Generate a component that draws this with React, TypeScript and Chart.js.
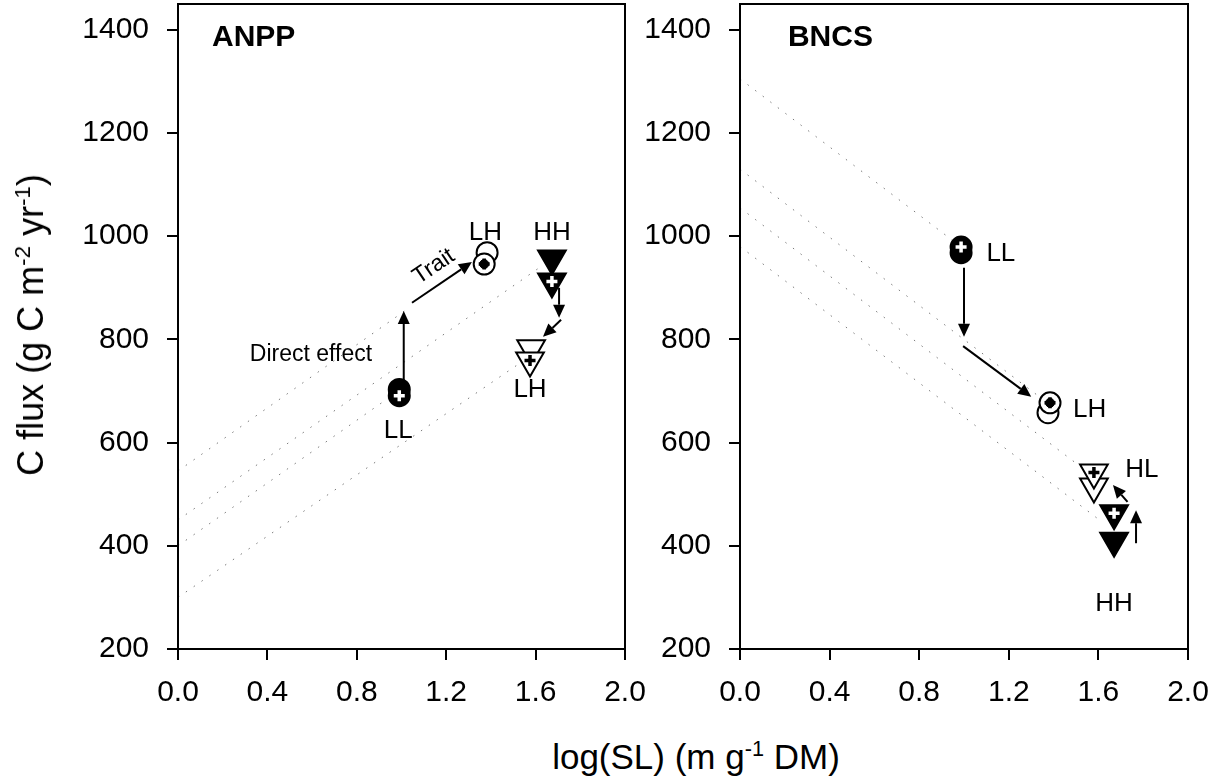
import React, { useEffect, useRef } from "react";
import { Chart, registerables } from "chart.js";
Chart.register(...registerables);

const FONT = "'Liberation Sans', Arial, Helvetica, sans-serif";

// ---------- axes ----------
const xTickValues = [0, 0.4, 0.8, 1.2, 1.6, 2.0];
const yTickValues = [200, 400, 600, 800, 1000, 1200, 1400];
const xRange = [0, 2];
const yRange = [200, 1450];

// ---------- ANPP panel ----------
const anppIsoY0 = [545, 450, 400, 300];
const anppIsoX1 = [1.03, 1.62, 0.97, 1.55];
const anppIsoY1 = [860, 940, 695, 760];

const anppLLX = [0.99, 0.99];
const anppLLY = [703, 691];
const anppLHCircX = [1.383, 1.37];
const anppLHCircY = [968, 946];
const anppHHX = [1.673, 1.673];
const anppHHY = [957, 912];
const anppLHTriX = [1.58, 1.575];
const anppLHTriY = [783, 759];

const anppArrowX0 = [1.01, 1.047, 1.705, 1.714];
const anppArrowY0 = [721, 871, 900, 838];
const anppArrowX1 = [1.01, 1.315, 1.705, 1.633];
const anppArrowY1 = [855, 950, 842, 805];

const anppLabels = ["LL", "LH", "HH", "LH"];
const anppLabelX = [0.985, 1.375, 1.673, 1.575];
const anppLabelY = [623, 1007, 1007, 703];
const anppLabelAlign = ["center", "center", "center", "center"];

const anppNotes = ["Direct effect", "Trait"];
const anppNoteX = [0.595, 1.145];
const anppNoteY = [770, 941];

// ---------- BNCS panel ----------
const bncsIsoY0 = [1305, 1130, 1055, 980];
const bncsIsoX1 = [1.0, 1.36, 1.57, 1.62];
const bncsIsoY1 = [975, 681, 537, 445];

const bncsLLX = [0.987, 0.987];
const bncsLLY = [968, 979];
const bncsLHX = [1.375, 1.384];
const bncsLHY = [658, 677];
const bncsHLX = [1.58, 1.58];
const bncsHLY = [515, 542];
const bncsHHX = [1.67, 1.67];
const bncsHHY = [410, 463];

const bncsArrowX0 = [1.0, 0.996, 1.768, 1.73];
const bncsArrowY0 = [939, 787, 405, 485];
const bncsArrowX1 = [1.0, 1.3, 1.768, 1.665];
const bncsArrowY1 = [805, 689, 469, 518];

const bncsLabels = ["LL", "LH", "HL", "HH"];
const bncsLabelX = [1.1, 1.487, 1.72, 1.67];
const bncsLabelY = [966, 663, 547, 288];
const bncsLabelAlign = ["left", "left", "left", "center"];

// ---------- helpers ----------
const pts = (xs: number[], ys: number[]) => xs.map((x, i) => ({ x, y: ys[i] }));

type Kind = "filledCircle" | "openCircle" | "filledTri" | "openTri" | "whiteCross" | "blackCross" | "blackDot";

function markerDataset(xs: number[], ys: number[], kind: Kind) {
  const base: any = { data: pts(xs, ys), showLine: false, pointHoverRadius: 0 };
  switch (kind) {
    case "filledCircle":
      return { ...base, pointStyle: "circle", pointRadius: 10.5, pointBackgroundColor: "#000", pointBorderColor: "#000", pointBorderWidth: 2 };
    case "openCircle":
      return { ...base, pointStyle: "circle", pointRadius: 10.5, pointBackgroundColor: "#fff", pointBorderColor: "#000", pointBorderWidth: 2 };
    case "filledTri":
      return { ...base, pointStyle: "triangle", pointRotation: 180, pointRadius: 16, pointBackgroundColor: "#000", pointBorderColor: "#000", pointBorderWidth: 2 };
    case "openTri":
      return { ...base, pointStyle: "triangle", pointRotation: 180, pointRadius: 16, pointBackgroundColor: "#fff", pointBorderColor: "#000", pointBorderWidth: 2 };
    case "whiteCross":
      return { ...base, pointStyle: "cross", pointRadius: 5.5, pointBorderColor: "#fff", pointBorderWidth: 3.5 };
    case "blackCross":
      return { ...base, pointStyle: "cross", pointRadius: 5.5, pointBorderColor: "#000", pointBorderWidth: 3.5 };
    case "blackDot":
      return { ...base, pointStyle: "circle", pointRadius: 4.5, pointBackgroundColor: "#000", pointBorderColor: "#000", pointBorderWidth: 1 };
  }
}

function isoDatasets(y0: number[], x1: number[], y1: number[]) {
  return y0.map((v, i) => ({
    data: [{ x: 0, y: v }, { x: x1[i], y: y1[i] }],
    showLine: true,
    borderColor: "#7a7a7a",
    borderWidth: 1,
    borderDash: [1.5, 8],
    pointRadius: 0,
    pointHoverRadius: 0,
    fill: false,
  }));
}

interface Spec {
  title: string;
  titleX: number;
  datasets: any[];
  arrows: { x0: number[]; y0: number[]; x1: number[]; y1: number[] };
  labels: { text: string[]; x: number[]; y: number[]; align: string[] };
  notes?: { text: string[]; x: number[]; y: number[] };
}

function annotPlugin(spec: Spec) {
  return {
    id: "annot",
    afterDatasetsDraw(chart: any) {
      const { ctx, chartArea } = chart;
      const sx = chart.scales.x;
      const sy = chart.scales.y;
      ctx.save();
      ctx.strokeStyle = "#000";
      ctx.lineWidth = 2;
      ctx.strokeRect(chartArea.left, chartArea.top, chartArea.right - chartArea.left, chartArea.bottom - chartArea.top);

      // arrows
      const a = spec.arrows;
      let traitAngle = 0;
      for (let i = 0; i < a.x0.length; i++) {
        const px0 = sx.getPixelForValue(a.x0[i]);
        const py0 = sy.getPixelForValue(a.y0[i]);
        const px1 = sx.getPixelForValue(a.x1[i]);
        const py1 = sy.getPixelForValue(a.y1[i]);
        const ang = Math.atan2(py1 - py0, px1 - px0);
        if (i === 1) traitAngle = ang;
        const hl = 13, hw = 6;
        const bx = px1 - hl * Math.cos(ang);
        const by = py1 - hl * Math.sin(ang);
        ctx.beginPath();
        ctx.moveTo(px0, py0);
        ctx.lineTo(bx, by);
        ctx.lineWidth = 2;
        ctx.stroke();
        ctx.beginPath();
        ctx.moveTo(px1, py1);
        ctx.lineTo(bx - hw * Math.sin(ang), by + hw * Math.cos(ang));
        ctx.lineTo(bx + hw * Math.sin(ang), by - hw * Math.cos(ang));
        ctx.closePath();
        ctx.fillStyle = "#000";
        ctx.fill();
      }

      // labels
      ctx.fillStyle = "#000";
      ctx.textBaseline = "middle";
      ctx.font = `26px ${FONT}`;
      const l = spec.labels;
      for (let i = 0; i < l.text.length; i++) {
        ctx.textAlign = l.align[i];
        ctx.fillText(l.text[i], sx.getPixelForValue(l.x[i]), sy.getPixelForValue(l.y[i]));
      }

      // panel title
      ctx.font = `bold 30px ${FONT}`;
      ctx.textAlign = "left";
      ctx.fillText(spec.title, sx.getPixelForValue(spec.titleX), sy.getPixelForValue(1385));

      // notes
      if (spec.notes) {
        const n = spec.notes;
        ctx.font = `23px ${FONT}`;
        ctx.textAlign = "center";
        ctx.fillText(n.text[0], sx.getPixelForValue(n.x[0]), sy.getPixelForValue(n.y[0]));
        ctx.save();
        ctx.translate(sx.getPixelForValue(n.x[1]), sy.getPixelForValue(n.y[1]));
        ctx.rotate(traitAngle);
        ctx.fillText(n.text[1], 0, 0);
        ctx.restore();
      }
      ctx.restore();
    },
  };
}

function makeDatasets(list: any[]) {
  // list given in drawing order (first drawn first); lower order draws on top
  return list.map((d, i) => ({ ...d, order: list.length - i }));
}

const anppSpec: Spec = {
  title: "ANPP",
  titleX: 0.152,
  datasets: makeDatasets([
    ...isoDatasets(anppIsoY0, anppIsoX1, anppIsoY1),
    markerDataset(anppLLX, anppLLY, "filledCircle"),
    markerDataset(anppLLX.slice(1), anppLLY.slice(1), "whiteCross"),
    markerDataset(anppLHCircX, anppLHCircY, "openCircle"),
    markerDataset(anppLHCircX.slice(1), anppLHCircY.slice(1), "blackDot"),
    markerDataset(anppLHCircX.slice(1), anppLHCircY.slice(1), "blackCross"),
    markerDataset(anppHHX, anppHHY, "filledTri"),
    markerDataset(anppHHX.slice(1), anppHHY.slice(1), "whiteCross"),
    markerDataset(anppLHTriX, anppLHTriY, "openTri"),
    markerDataset(anppLHTriX.slice(1), anppLHTriY.slice(1), "blackCross"),
  ]),
  arrows: { x0: anppArrowX0, y0: anppArrowY0, x1: anppArrowX1, y1: anppArrowY1 },
  labels: { text: anppLabels, x: anppLabelX, y: anppLabelY, align: anppLabelAlign },
  notes: { text: anppNotes, x: anppNoteX, y: anppNoteY },
};

const bncsSpec: Spec = {
  title: "BNCS",
  titleX: 0.214,
  datasets: makeDatasets([
    ...isoDatasets(bncsIsoY0, bncsIsoX1, bncsIsoY1),
    markerDataset(bncsLLX, bncsLLY, "filledCircle"),
    markerDataset(bncsLLX.slice(1), bncsLLY.slice(1), "whiteCross"),
    markerDataset(bncsLHX, bncsLHY, "openCircle"),
    markerDataset(bncsLHX.slice(1), bncsLHY.slice(1), "blackDot"),
    markerDataset(bncsLHX.slice(1), bncsLHY.slice(1), "blackCross"),
    markerDataset(bncsHLX, bncsHLY, "openTri"),
    markerDataset(bncsHLX.slice(1), bncsHLY.slice(1), "blackCross"),
    markerDataset(bncsHHX, bncsHHY, "filledTri"),
    markerDataset(bncsHHX.slice(1), bncsHHY.slice(1), "whiteCross"),
  ]),
  arrows: { x0: bncsArrowX0, y0: bncsArrowY0, x1: bncsArrowX1, y1: bncsArrowY1 },
  labels: { text: bncsLabels, x: bncsLabelX, y: bncsLabelY, align: bncsLabelAlign },
};

const PLOT_BOTTOM = 649;
const PLOT_TOP = 4;

function Panel(props: { spec: Spec; left: number; width: number; height: number; yAxisWidth: number; padRight: number }) {
  const ref = useRef<HTMLCanvasElement>(null);
  useEffect(() => {
    const { spec, height, yAxisWidth, padRight } = props;
    const chart = new Chart(ref.current!, {
      type: "scatter",
      data: { datasets: spec.datasets },
      options: {
        animation: false,
        responsive: false,
        devicePixelRatio: 1,
        events: [],
        layout: { autoPadding: false, padding: { top: PLOT_TOP, right: padRight, left: 0, bottom: 0 } },
        plugins: { legend: { display: false }, tooltip: { enabled: false }, title: { display: false } },
        scales: {
          x: {
            type: "linear",
            min: xRange[0],
            max: xRange[1],
            afterBuildTicks: (s: any) => {
              s.ticks = xTickValues.map((v) => ({ value: v }));
            },
            afterFit: (s: any) => {
              s.height = height - PLOT_BOTTOM;
              s.paddingLeft = 0;
              s.paddingRight = 0;
            },
            ticks: {
              font: { family: FONT, size: 30 },
              color: "#000",
              padding: 15,
              maxRotation: 0,
              autoSkip: false,
              callback: (v: any) => Number(v).toFixed(1),
            },
            grid: { display: true, drawOnChartArea: false, drawTicks: true, tickLength: 11, color: "#000", lineWidth: 2 },
            border: { display: true, color: "#000", width: 2 },
          },
          y: {
            type: "linear",
            min: yRange[0],
            max: yRange[1],
            afterBuildTicks: (s: any) => {
              s.ticks = yTickValues.map((v) => ({ value: v }));
            },
            afterFit: (s: any) => {
              s.width = yAxisWidth;
              s.paddingTop = 0;
              s.paddingBottom = 0;
            },
            ticks: {
              font: { family: FONT, size: 30, lineHeight: 0.25 },
              color: "#000",
              padding: 18,
              autoSkip: false,
              callback: (v: any) => String(v),
            },
            grid: { display: true, drawOnChartArea: false, drawTicks: true, tickLength: 11, color: "#000", lineWidth: 2 },
            border: { display: true, color: "#000", width: 2 },
          },
        },
      },
      plugins: [annotPlugin(spec) as any],
    });
    return () => chart.destroy();
  }, []);
  return (
    <canvas
      ref={ref}
      width={props.width}
      height={props.height}
      style={{ position: "absolute", left: props.left, top: 0, width: props.width, height: props.height }}
    />
  );
}

const supStyle: React.CSSProperties = { fontSize: "0.62em", position: "relative", top: "-0.6em" };

export default function App() {
  return (
    <div style={{ position: "absolute", left: 0, top: 0, width: 1214, height: 783, background: "#fff", overflow: "hidden", fontFamily: FONT }}>
      <Panel spec={anppSpec} left={0} width={680} height={730} yAxisWidth={178} padRight={55} />
      <Panel spec={bncsSpec} left={630} width={584} height={730} yAxisWidth={110} padRight={26} />
      <div
        style={{
          position: "absolute",
          left: 31,
          top: 325,
          transform: "translate(-50%, -50%) rotate(-90deg)",
          whiteSpace: "nowrap",
          fontSize: 36,
          lineHeight: "normal",
          color: "#000",
        }}
      >
        C flux (g C m<span style={supStyle}>-2</span> yr<span style={supStyle}>-1</span>)
      </div>
      <div
        style={{
          position: "absolute",
          left: 696,
          top: 757,
          transform: "translate(-50%, -50%)",
          whiteSpace: "nowrap",
          fontSize: 35,
          lineHeight: "normal",
          color: "#000",
        }}
      >
        log(SL) (m g<span style={supStyle}>-1</span> DM)
      </div>
    </div>
  );
}
